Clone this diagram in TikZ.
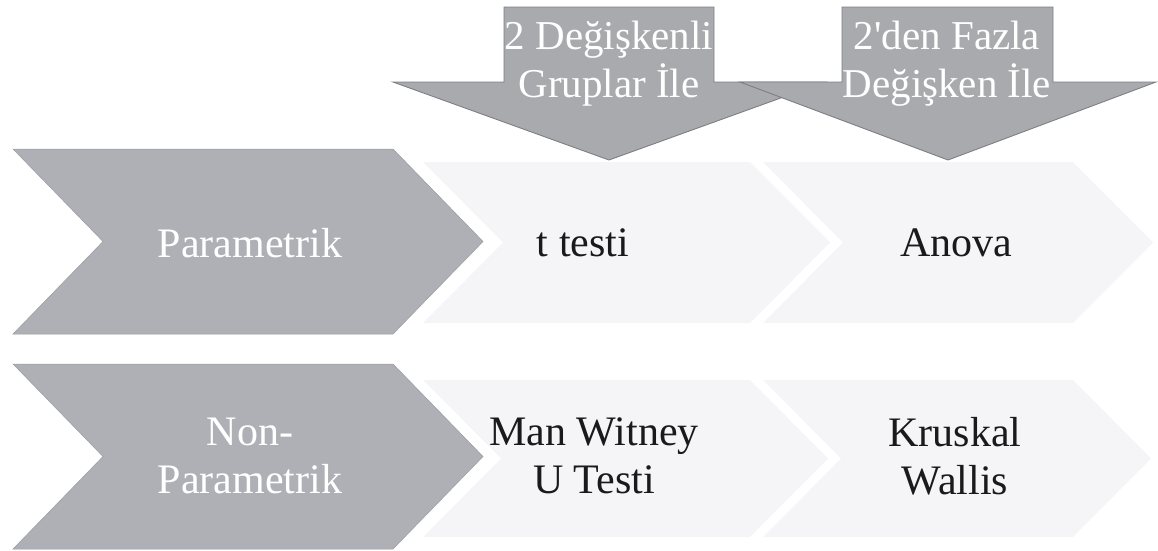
\documentclass[tikz,border=0pt]{standalone}
\usepackage{fontspec}
\setmainfont{Liberation Serif}
\definecolor{chevgrey}{HTML}{AEB0B5}
\definecolor{chevedge}{HTML}{9A9CA1}
\definecolor{chevlight}{HTML}{F5F4F7}
\definecolor{arrowgrey}{HTML}{A9AAAE}
\definecolor{arrowedge}{HTML}{7E7F84}
\definecolor{inkdark}{HTML}{1A1A1A}
\begin{document}
\begin{tikzpicture}[x=1pt,y=-1pt,
  darkchev/.style={fill=chevgrey, draw=chevedge, line width=0.5pt},
  lightchev/.style={fill=chevlight, draw=none},
  downarrow/.style={fill=arrowgrey, draw=arrowedge, line width=0.9pt, line join=miter},
  labeltext/.style={font=\fontsize{42}{48}\selectfont, align=center, inner sep=0pt},
  whitelabel/.style={labeltext, text=white},
  darklabel/.style={labeltext, text=inkdark}]
\useasboundingbox (0,0) rectangle (1158,550);

% row 1: method chevron and the two test chevrons
\path[darkchev] (13,149) -- (393,149) -- (483,241.5) -- (393,334) -- (13,334) -- (103,241.5) -- cycle;
\path[lightchev] (423,162) -- (750,162) -- (830,242.5) -- (750,323) -- (423,323) -- (503,242.5) -- cycle;
\path[lightchev] (763,162) -- (1073,162) -- (1153,242.5) -- (1073,323) -- (763,323) -- (843,242.5) -- cycle;

% row 2
\path[darkchev] (13,364) -- (393,364) -- (483,456.5) -- (393,549) -- (13,549) -- (103,456.5) -- cycle;
\path[lightchev] (423,380) -- (750,380) -- (828,458.5) -- (750,537) -- (423,537) -- (501,458.5) -- cycle;
\path[lightchev] (763,380) -- (1073,380) -- (1151,458.5) -- (1073,537) -- (763,537) -- (841,458.5) -- cycle;

% column headers as block arrows pointing down
\path[downarrow] (504,7) -- (714,7) -- (714,82) -- (825,82) -- (609,160) -- (393,82) -- (504,82) -- cycle;
\path[downarrow] (842,7) -- (1053,7) -- (1053,82) -- (1156,82) -- (948,160) -- (740,82) -- (842,82) -- cycle;

% labels
\node[whitelabel, font=\fontsize{41}{48}\selectfont] (hdrA) at (609,64) {2 Değişkenli\\Gruplar İle};
\node[whitelabel, font=\fontsize{41}{48}\selectfont] (hdrB) at (947,64) {2\textquotesingle den Fazla\\Değişken İle};

\node[whitelabel] (param) at (250,243) {Parametrik};
\node[darklabel] (ttest) at (583,243) {t testi};
\node[darklabel] (anova) at (956,243) {Anova};

\node[whitelabel] (nonparam) at (250,456) {Non-\\Parametrik};
\node[darklabel] (mwu) at (594,456) {Man Witney\\U Testi};
\node[darklabel] (kw) at (955,456) {Kruskal\\Wallis};
\end{tikzpicture}
\end{document}
